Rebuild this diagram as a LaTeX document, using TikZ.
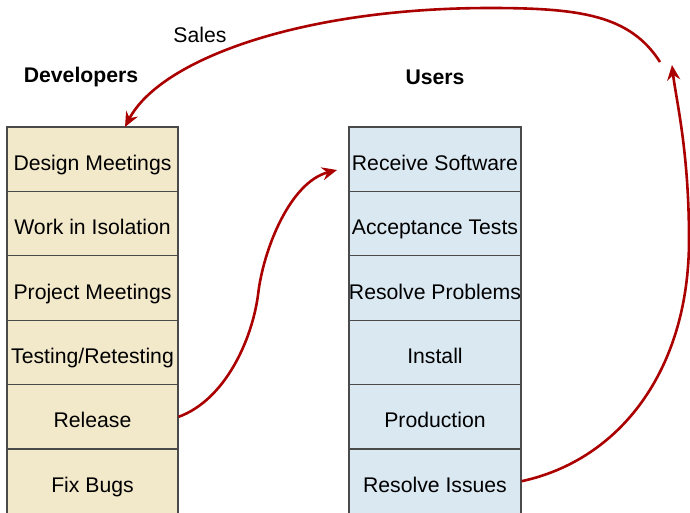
\documentclass[tikz,border=0pt]{standalone}
\usepackage{fontspec}
\setmainfont{Liberation Sans}
\usetikzlibrary{positioning,arrows.meta}
\definecolor{devfill}{HTML}{F2E8CA}
\definecolor{userfill}{HTML}{DAE8F2}
\definecolor{rowline}{HTML}{4A4A4A}
\definecolor{flowred}{HTML}{AA0000}

\begin{document}
\begin{tikzpicture}
    [x=1pt,y=-1pt,
     every node/.style={font=\fontsize{21.2}{25}\selectfont, inner sep=0pt},
     devbox/.style={draw=rowline, line width=1.2pt, fill=devfill, minimum width=171pt, minimum height=64.4pt, text height=26pt, text depth=4pt},
     userbox/.style={draw=rowline, line width=1.2pt, fill=userfill, minimum width=172pt, minimum height=64.4pt, text height=26pt, text depth=4pt},
     flow/.style={draw=flowred, line width=2.6pt, -{Stealth[length=15pt,width=13pt,inset=5pt]}}]
  \useasboundingbox (0,0) rectangle (690,512);

  \node[font=\fontsize{21.2}{25}\selectfont\bfseries] (devhead) at (81,77) {Developers};
  \node[font=\fontsize{21.2}{25}\selectfont\bfseries] (userhead) at (435,77) {Users};

  \node[devbox] (d1) at (92.5,159.2) {Design Meetings};
  \node[devbox] (d2) at (92.5,223.6) {Work in Isolation};
  \node[devbox] (d3) at (92.5,288) {Project Meetings};
  \node[devbox] (d4) at (92.5,352.4) {Testing/Retesting};
  \node[devbox] (d5) at (92.5,416.8) {Release};
  \node[devbox] (d6) at (92.5,481.2) {Fix Bugs};

  \node[userbox] (u1) at (435,159.2) {Receive Software};
  \node[userbox] (u2) at (435,223.6) {Acceptance Tests};
  \node[userbox] (u3) at (435,288) {Resolve Problems};
  \node[userbox] (u4) at (435,352.4) {Install};
  \node[userbox] (u5) at (435,416.8) {Production};
  \node[userbox] (u6) at (435,481.2) {Resolve Issues};

  \node (sales) at (200,35) {Sales};

  \coordinate (recvtip) at (337,170);
  \coordinate (uptip) at (672,65);
  \coordinate (salesstart) at (660,62);
  \coordinate (salestip) at (125,127);

  \draw[flow] (d5.east) .. controls (225,400) and (252,340) .. (258,295)
                        .. controls (263,250) and (290,182) .. (recvtip);
  \draw[flow] (u6.east) .. controls (620,460) and (689,370) .. (689,240)
                        .. controls (689,150) and (676,100) .. (uptip);
  \draw[flow] (salesstart) .. controls (630,15) and (580,8) .. (490,8)
                           .. controls (300,8) and (160,60) .. (salestip);
\end{tikzpicture}
\end{document}
